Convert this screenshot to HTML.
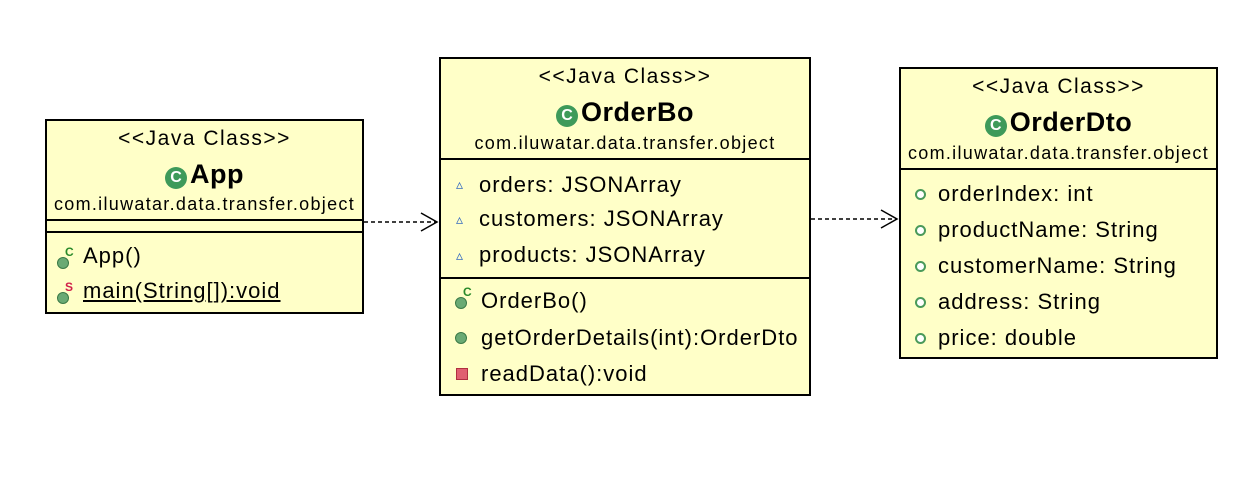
<!DOCTYPE html>
<html><head><meta charset="utf-8"><style>
body{margin:0;width:1246px;height:478px;background:#fff;position:relative;overflow:hidden;font-family:"Liberation Sans",sans-serif;color:#000}
.box{position:absolute;background:#ffffc8;border:2px solid #000;box-sizing:border-box}
.hl{position:absolute;left:0;right:0;height:0;border-top:2px solid #000}
.t{position:absolute;white-space:nowrap;line-height:1}
.c{left:0;right:0;text-align:center}
.st{font-size:21px;letter-spacing:1.5px}
.nm{font-size:27px;font-weight:bold;letter-spacing:0.5px}
.pk{font-size:18px;letter-spacing:1.3px}
.m{font-size:22px;letter-spacing:1px}
.g{display:inline-block;width:22px;height:22px;border-radius:50%;background:#3e9a5a;color:#fff;font-size:16px;font-weight:bold;text-align:center;line-height:22px;vertical-align:1px;margin-right:3px;letter-spacing:0}
.dot{position:absolute;width:10px;height:10px;border-radius:50%;background:#6aaa74;border:1px solid #3b7a47}
.sup{position:absolute;font-size:12px;font-weight:bold}
.tri{position:absolute;color:#3a6fc0;font-size:14px;line-height:1}
</style></head><body>
<svg width="1246" height="478" style="position:absolute;left:0;top:0">
<g stroke="#000" stroke-width="1.5" fill="none">
<line x1="364" y1="222" x2="436" y2="222" stroke-dasharray="4,3"/>
<polyline points="421,213 437,222 421,231"/>
<line x1="811" y1="219" x2="896" y2="219" stroke-dasharray="4,3"/>
<polyline points="881,210 897,219 881,228"/>
</g></svg>

<div class="box" style="left:45px;top:119px;width:319px;height:195px">
<div class="t c st" style="top:7px">&lt;&lt;Java Class&gt;&gt;</div>
<div class="t c nm" style="top:40px"><span class="g">C</span>App</div>
<div class="t c pk" style="top:74px">com.iluwatar.data.transfer.object</div>
<div class="hl" style="top:98px"></div>
<div class="hl" style="top:110px"></div>
<div class="dot" style="left:10px;top:136px"></div><div class="sup" style="left:18px;top:124px;color:#2a8a2a">C</div>
<div class="t m" style="left:36px;top:124px">App()</div>
<div class="dot" style="left:10px;top:171px"></div><div class="sup" style="left:18px;top:159px;color:#d0204a">S</div>
<div class="t m" style="left:36px;top:159px;text-decoration:underline">main(String[]):void</div>
</div>

<div class="box" style="left:439px;top:57px;width:372px;height:339px">
<div class="t c st" style="top:7px">&lt;&lt;Java Class&gt;&gt;</div>
<div class="t c nm" style="top:40px"><span class="g">C</span>OrderBo</div>
<div class="t c pk" style="top:75px">com.iluwatar.data.transfer.object</div>
<div class="hl" style="top:99px"></div>
<div class="tri" style="left:15px;top:118px">▵</div><div class="t m" style="left:38px;top:115px">orders: JSONArray</div>
<div class="tri" style="left:15px;top:153px">▵</div><div class="t m" style="left:38px;top:149px">customers: JSONArray</div>
<div class="tri" style="left:15px;top:189px">▵</div><div class="t m" style="left:38px;top:185px">products: JSONArray</div>
<div class="hl" style="top:218px"></div>
<div class="dot" style="left:14px;top:238px"></div><div class="sup" style="left:22px;top:226px;color:#2a8a2a">C</div>
<div class="t m" style="left:40px;top:231px">OrderBo()</div>
<div class="dot" style="left:14px;top:273px"></div>
<div class="t m" style="left:40px;top:268px">getOrderDetails(int):OrderDto</div>
<div style="position:absolute;left:15px;top:309px;width:10px;height:10px;background:#e06070;border:1px solid #b03040"></div>
<div class="t m" style="left:40px;top:304px">readData():void</div>
</div>

<div class="box" style="left:899px;top:67px;width:319px;height:292px">
<div class="t c st" style="top:7px">&lt;&lt;Java Class&gt;&gt;</div>
<div class="t c nm" style="top:40px"><span class="g">C</span>OrderDto</div>
<div class="t c pk" style="top:75px">com.iluwatar.data.transfer.object</div>
<div class="hl" style="top:99px"></div>
<div class="dot" style="left:14px;top:120px;width:7px;height:7px;background:#fff;border:2px solid #4a9a5a"></div><div class="t m" style="left:37px;top:114px">orderIndex: int</div>
<div class="dot" style="left:14px;top:156px;width:7px;height:7px;background:#fff;border:2px solid #4a9a5a"></div><div class="t m" style="left:37px;top:150px">productName: String</div>
<div class="dot" style="left:14px;top:192px;width:7px;height:7px;background:#fff;border:2px solid #4a9a5a"></div><div class="t m" style="left:37px;top:186px">customerName: String</div>
<div class="dot" style="left:14px;top:228px;width:7px;height:7px;background:#fff;border:2px solid #4a9a5a"></div><div class="t m" style="left:37px;top:222px">address: String</div>
<div class="dot" style="left:14px;top:264px;width:7px;height:7px;background:#fff;border:2px solid #4a9a5a"></div><div class="t m" style="left:37px;top:258px">price: double</div>
</div>
</body></html>
